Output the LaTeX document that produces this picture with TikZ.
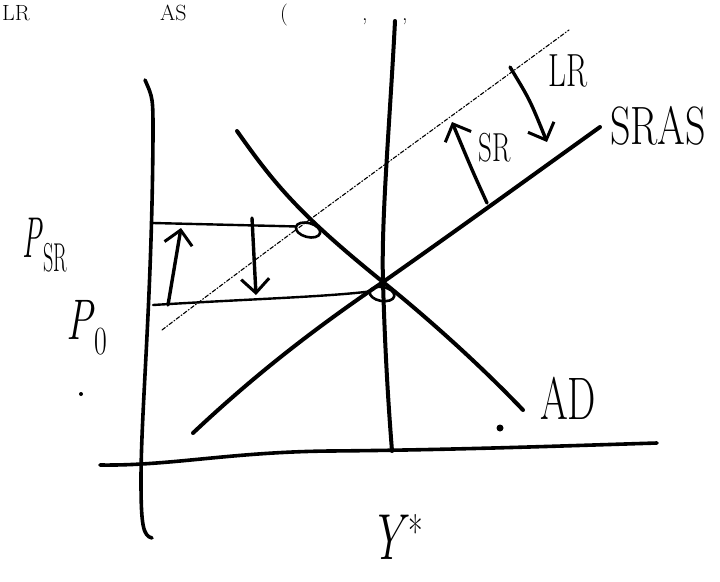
\documentclass[tikz,border=0pt]{standalone}
\usepackage{fontspec}
\usetikzlibrary{arrows.meta,shapes.geometric}
\begin{document}
\begin{tikzpicture}[x=1pt,y=-1pt,line cap=round,line join=round,
  curveline/.style={line width=4pt},
  axisline/.style={line width=3.6pt},
  guideline/.style={line width=2.4pt},
  lrline/.style={line width=1.1pt,dash pattern=on 4pt off 2pt on 1pt off 2pt},
  shiftarrow/.style={line width=3.4pt,-{Straight Barb[length=14pt,width=28pt,line width=3pt]}},
  hand/.style={inner sep=0pt},
  ring/.style={draw,ellipse,line width=2.6pt,inner sep=0pt,minimum width=25pt,minimum height=14pt},
  speck/.style={circle,fill,inner sep=0pt,minimum size=#1}]
\useasboundingbox (0,0) rectangle (720,581);
% heading along the top edge
\node[hand,anchor=base west] (hdA) at (2,20) {\fontsize{22}{22}\selectfont LR};
\node[hand,anchor=base west] (hdB) at (160,20) {\fontsize{22}{22}\selectfont AS};
\node[hand,anchor=base west] (hdC) at (280,20) {\fontsize{22}{22}\selectfont (};
\node[hand,anchor=base west] (hdD) at (362,20) {\fontsize{22}{22}\selectfont ,};
\node[hand,anchor=base west] (hdE) at (402,20) {\fontsize{22}{22}\selectfont ,};
% coordinates
\coordinate (ytop) at (145,80);
\coordinate (ybot) at (152,538);
\coordinate (xleft) at (100,465);
\coordinate (xright) at (657,443);
\coordinate (vtop) at (395,21);
\coordinate (vbot) at (392,451);
\coordinate (eq) at (383,282);
% axes
\draw[axisline] (ytop) .. controls (153,98) .. (153,135) .. controls (152,300) and (141,410) .. (141,480) .. controls (141,525) and (143,536) .. (ybot);
\draw[axisline] (xleft) .. controls (170,466) and (230,452) .. (330,451) .. controls (450,450) and (560,446) .. (xright);
% Y* vertical line
\draw[curveline] (vtop) .. controls (390,120) and (381,220) .. (eq) .. controls (385,350) and (388,400) .. (vbot);
% AD
\draw[curveline] (237,131) .. controls (275,185) and (300,215) .. (eq) .. controls (430,320) and (480,365) .. (523,410);
% SRAS
\draw[curveline] (193,433) .. controls (260,370) and (320,325) .. (eq) .. controls (460,228) and (540,170) .. (600,127);
% LR dashed line
\draw[lrline] (162,330) .. controls (300,225) and (440,125) .. (569,30);
% price guide lines
\coordinate (psrl) at (153,223);
\coordinate (p0l) at (153,305);
\node[ring,rotate=-15] (ringsr) at (308,230) {};
\node[ring,rotate=-10] (ring0) at (382,294) {};
\draw[guideline] (psrl) -- (ringsr.west);
\draw[guideline] (p0l) .. controls (250,299) and (323,297) .. (ring0.west);
% shift arrows
\coordinate (upa) at (168,305);
\coordinate (upb) at (181,228);
\coordinate (dna) at (252,218);
\coordinate (dnb) at (256,295);
\coordinate (sra) at (487,203);
\coordinate (srb) at (452,122);
\coordinate (lra) at (510,67);
\coordinate (lrb) at (547,142);
\draw[shiftarrow] (upa) -- (upb);
\draw[shiftarrow] (dna) -- (dnb);
\draw[shiftarrow] (sra) .. controls (472,170) .. (srb);
\draw[shiftarrow] (lra) .. controls (530,100) .. (lrb);
% labels
\node[hand] (lsras) at (658,126) {\fontsize{40}{40}\selectfont\scalebox{1}[1.35]{SRAS}};
\node[hand] (llr) at (568,71) {\fontsize{31}{31}\selectfont\scalebox{1}[1.5]{LR}};
\node[hand] (lsr) at (495,148) {\fontsize{27}{27}\selectfont\scalebox{1}[1.5]{SR}};
\node[hand] (lad) at (568,398) {\fontsize{40}{40}\selectfont\scalebox{1}[1.5]{AD}};
\node[hand] (lys) at (397,537) {\fontsize{50}{50}\selectfont\scalebox{0.9}[1.3]{\textit{Y}\textsuperscript{*}}};
\node[hand] (lpsr) at (45,245) {\fontsize{36}{36}\selectfont\scalebox{0.8}[1.6]{\textit{P}\textsubscript{SR}}};
\node[hand] (lp0) at (87,328) {\fontsize{44}{44}\selectfont\scalebox{0.9}[1.3]{\textit{P}\textsubscript{0}}};
% stray dots
\node[speck=4pt] (dot1) at (81,394) {};
\node[speck=7pt] (dot2) at (500,428) {};
\end{tikzpicture}
\end{document}
